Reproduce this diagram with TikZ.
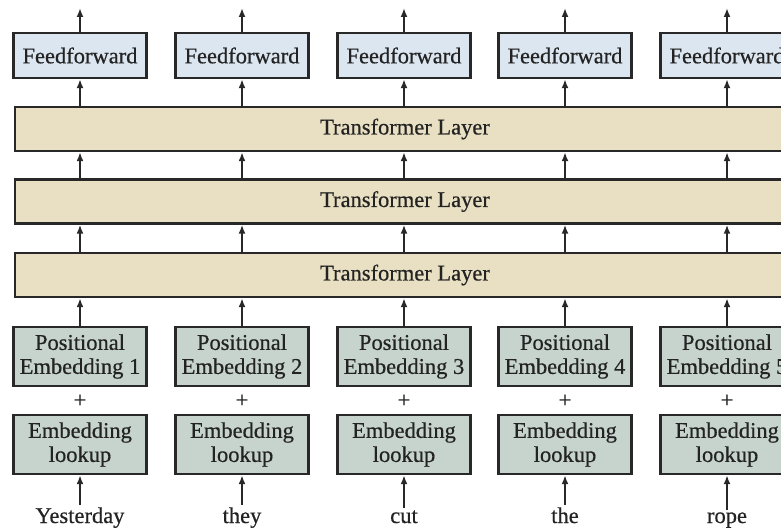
\documentclass[tikz,border=0pt]{standalone}
\usepackage{fontspec}
\setmainfont{Liberation Serif}[BoldFont=Liberation Serif, BoldFeatures={FakeBold=0.5}]
\usetikzlibrary{arrows.meta}
\definecolor{ffblue}{RGB}{220,230,240}
\definecolor{layerbeige}{RGB}{233,224,195}
\definecolor{embgreen}{RGB}{198,212,205}
\definecolor{edge}{RGB}{40,40,40}
\definecolor{ink}{RGB}{35,35,35}
\begin{document}
\begin{tikzpicture}[x=1pt,y=-1pt,
  every node/.style={font=\fontsize{22.5}{24}\selectfont\bfseries, text=ink},
  box/.style={draw=edge, line width=2.4pt, minimum width=133pt, inner sep=0pt, align=center},
  ffbox/.style={box, fill=ffblue, minimum height=45pt},
  layerbox/.style={draw=edge, line width=2.4pt, fill=layerbeige, minimum width=780pt, minimum height=44pt, inner sep=0pt},
  embbox/.style={box, fill=embgreen, minimum height=59pt},
  word/.style={anchor=base, inner sep=2pt},
  up/.style={-{Latex[length=9pt,width=7pt]}, line width=2pt, draw=edge}]
\useasboundingbox (0,0) rectangle (781,527);
\clip (0,0) rectangle (781,527);
\fill[white] (0,0) rectangle (781,527);

% three stacked transformer layers spanning all columns
\node[layerbox] (L1) at (405,129) {Transformer Layer};
\node[layerbox] (L2) at (405,201.5) {Transformer Layer};
\node[layerbox] (L3) at (405,275) {Transformer Layer};

\foreach \i/\x/\w in {1/80/Yesterday, 2/242/they, 3/404/cut, 4/565/the, 5/727/rope} {
  \node[ffbox] (ff\i) at (\x,55.5) {Feedforward};
  \coordinate (out\i) at (\x,8);
  \node[embbox] (pos\i) at (\x,356.5) {Positional\\Embedding \i};
  \node (plus\i) at (\x,401) {+};
  \node[embbox] (emb\i) at (\x,444.5) {Embedding\\lookup};
  \node[word] (w\i) at (\x,523) {\w};
  \draw[up] (ff\i.north) -- (out\i);
  \draw[up] (L1.north -| ff\i.south) -- (ff\i.south);
  \draw[up] (L2.north -| ff\i.south) -- (L1.south -| ff\i.south);
  \draw[up] (L3.north -| ff\i.south) -- (L2.south -| ff\i.south);
  \draw[up] (pos\i.north) -- (L3.south -| pos\i.north);
  \draw[up] (w\i.north) -- (emb\i.south);
}
\end{tikzpicture}
\end{document}
